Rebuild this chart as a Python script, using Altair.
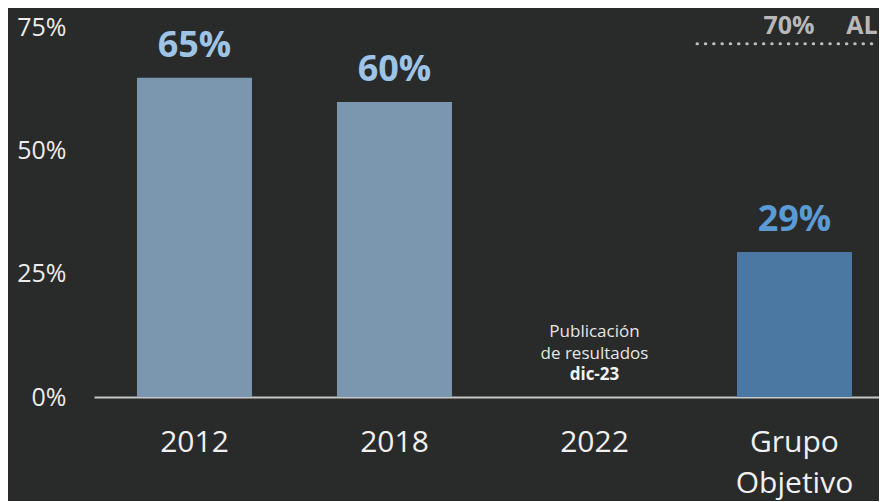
import altair as alt
import pandas as pd

categories = ["2012", "2018", "2022", "Grupo Objetivo"]
values = [64.7, 59.8, None, 29.4]
value_labels = ["65%", "60%", "", "29%"]
bar_colors = ["#7b97b0", "#7b97b0", "#7b97b0", "#4b78a2"]
label_colors = ["#9dc3e6", "#9dc3e6", "#9dc3e6", "#5b9bd5"]
y_ticks = [0, 25, 50, 75]
note_lines = ["Publicación", "de resultados"]
note_bold = "dic-23"
target_value = 71.6
target_text = ["70%", "AL"]

FONT = "Open Sans"
BG = "#292a2a"

df = pd.DataFrame({
    "cat": categories,
    "val": values,
    "lab": value_labels,
    "bc": bar_colors,
    "lc": label_colors,
})

xscale = alt.Scale(domain=categories, paddingInner=0.425, paddingOuter=0.175, align=0.614)
yscale = alt.Scale(domain=[0, 75], nice=False, zero=True)

x_enc = alt.X("cat:N", scale=xscale, sort=categories,
              axis=alt.Axis(title=None, labelAngle=0, ticks=False, domain=True,
                            domainColor="#c8c8c8", domainWidth=2,
                            labelFont=FONT, labelFontSize=30, labelColor="#f0f0f0",
                            labelPadding=30, labelLineHeight=41,
                            labelExpr="split(datum.label, ' ')"))
y_enc = alt.Y("val:Q", scale=yscale,
              axis=alt.Axis(title=None, values=y_ticks, grid=False, domain=False, ticks=False,
                            labelFont=FONT, labelFontSize=25, labelColor="#ececec",
                            labelPadding=28, labelExpr="datum.value + '%'"))

base = alt.Chart(df)

bars = base.transform_filter("isValid(datum.val)").mark_bar().encode(
    x=x_enc, y=y_enc, color=alt.Color("bc:N", scale=None)
)

labels = base.transform_filter("isValid(datum.val)").mark_text(
    font=FONT, fontSize=36, fontWeight="bold", baseline="alphabetic", dy=-21
).encode(
    x=alt.X("cat:N", scale=xscale, sort=categories),
    y=alt.Y("val:Q", scale=yscale),
    text="lab:N",
    color=alt.Color("lc:N", scale=None),
)

note_df = pd.DataFrame({"cat": ["2022"], "t1": [note_lines], "t2": [note_bold]})
note1 = alt.Chart(note_df).mark_text(
    font=FONT, fontSize=17, color="#e6e6e6", baseline="middle", lineHeight=22
).encode(x=alt.X("cat:N", scale=xscale, sort=categories), y=alt.value(305), text="t1")
note2 = alt.Chart(note_df).mark_text(
    font=FONT, fontSize=17, fontWeight="bold", color="#f2f2f2", baseline="middle"
).encode(x=alt.X("cat:N", scale=xscale, sort=categories), y=alt.value(348), text="t2:N")

tgt_df = pd.DataFrame({"v": [target_value]})
target = alt.Chart(tgt_df).mark_rule(
    color="#bdbdbd", strokeWidth=3, strokeDash=[0.5, 7.8], strokeCap="round"
).encode(y=alt.Y("v:Q", scale=yscale), x=alt.value(603), x2=alt.value(785))

tt_df = pd.DataFrame({"t": target_text, "px": [695, 768]})
target_txt = alt.Chart(tt_df).mark_text(
    font=FONT, fontSize=25, fontWeight="bold", color="#b8b8b8", baseline="middle"
).encode(x=alt.X("px:Q", scale=None), y=alt.value(-1), text="t:N")

chart = alt.layer(bars, labels, note1, note2, target, target_txt).properties(
    width=785, height=370,
    autosize=alt.AutoSizeParams(type="none"),
    padding={"left": 86, "top": 19, "right": 0, "bottom": 104},
    background=BG,
).configure_view(stroke=None)

chart.save("out.html", embed_options={"renderer": "svg", "actions": False})
